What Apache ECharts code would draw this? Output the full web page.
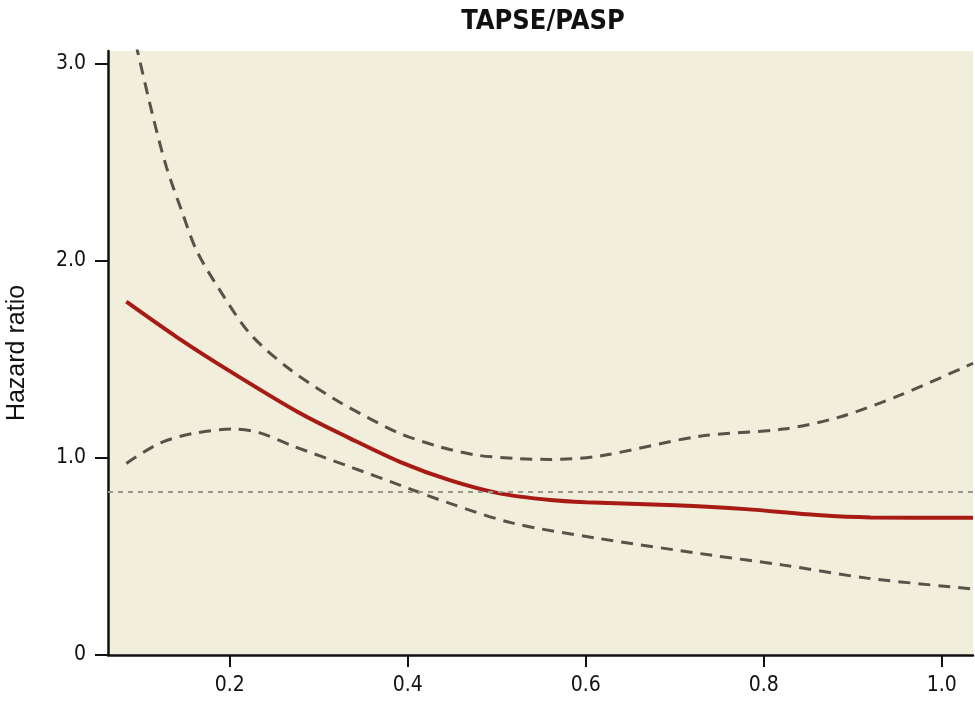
<!DOCTYPE html>
<html>
<head>
<meta charset="utf-8">
<script src="https://cdn.jsdelivr.net/npm/echarts@6/dist/echarts.min.js"></script>
<style>html,body{margin:0;padding:0;background:#fff}#c{width:975px;height:704px}</style>
</head>
<body>
<div id="c"></div>
<script>
// Estimated hazard ratio (solid) with confidence bounds (dashed)
const hrX = [0.0838, 0.14, 0.2, 0.279, 0.335, 0.391, 0.447, 0.503, 0.56, 0.6, 0.7, 0.78, 0.86, 0.92, 1.035];
const hrY = [1.792, 1.614, 1.44, 1.226, 1.099, 0.98, 0.887, 0.82, 0.786, 0.775, 0.76, 0.74, 0.71, 0.698, 0.696];
const upX = [0.084, 0.097, 0.1138, 0.1288, 0.1457, 0.1625, 0.1888, 0.2225, 0.2637, 0.3161, 0.3536, 0.391, 0.436, 0.4773, 0.522, 0.5597, 0.616, 0.728, 0.822, 0.885, 0.953, 1.035];
const upY = [3.30, 3.051, 2.73, 2.476, 2.257, 2.054, 1.851, 1.631, 1.462, 1.302, 1.208, 1.124, 1.056, 1.014, 0.997, 0.992, 1.01, 1.11, 1.146, 1.207, 1.318, 1.48];
const loX = [0.0838, 0.121, 0.159, 0.2037, 0.2337, 0.271, 0.3349, 0.391, 0.4473, 0.518, 0.612, 0.74, 0.822, 0.916, 1.035];
const loY = [0.972, 1.074, 1.124, 1.146, 1.127, 1.06, 0.955, 0.862, 0.769, 0.669, 0.593, 0.507, 0.456, 0.39, 0.335];
const refLine = 0.829;
const xTicks = [0.2, 0.4, 0.6, 0.8, 1.0];
const yTicks = [0, 1, 2, 3];

const zip = (xs, ys) => xs.map((x, i) => [x, ys[i]]);
const narrow = '"Liberation Sans Narrow", "DejaVu Sans Condensed", sans-serif';

const chart = echarts.init(document.getElementById('c'));
chart.setOption({
  animation: false,
  backgroundColor: '#ffffff',
  title: {
    text: 'TAPSE/PASP', left: 538, top: 3, textAlign: 'center',
    textStyle: { fontFamily: narrow, fontWeight: 'bold', fontSize: 27, color: '#111' }
  },
  grid: { left: 108, right: 2, top: 51, bottom: 49, outerBoundsMode: 'none', containLabel: false, show: true, backgroundColor: '#f1eedc', borderWidth: 0 },
  xAxis: {
    type: 'value', min: 0.0632, max: 1.035,
    axisLine: { lineStyle: { color: '#111', width: 2.5 } },
    axisTick: { customValues: xTicks, length: 12, lineStyle: { color: '#111', width: 2 } },
    axisLabel: { customValues: xTicks, formatter: v => v.toFixed(1), margin: 20, fontFamily: narrow, fontSize: 21, color: '#111' },
    splitLine: { show: false }
  },
  yAxis: {
    type: 'value', min: 0, max: 3.064,
    name: 'Hazard ratio', nameLocation: 'middle', nameGap: 78, nameRotate: 90,
    nameTextStyle: { fontFamily: '"Liberation Sans", Arial, sans-serif', fontSize: 25, color: '#111' },
    axisLine: { show: true, lineStyle: { color: '#111', width: 2.5 } },
    axisTick: { show: true, customValues: yTicks, length: 13, lineStyle: { color: '#111', width: 2 } },
    axisLabel: { customValues: yTicks, formatter: v => v === 0 ? '0' : v.toFixed(1), margin: 22, fontFamily: narrow, fontSize: 21, color: '#111' },
    splitLine: { show: false }
  },
  series: [
    {
      type: 'line', data: zip(upX, upY), smooth: 0.3, symbol: 'none', clip: true,
      lineStyle: { color: '#57534a', width: 3, type: [12, 8] },
      markLine: {
        silent: true, symbol: 'none', label: { show: false },
        lineStyle: { color: '#9a978f', width: 2, type: [5, 5] },
        data: [{ yAxis: refLine }]
      }
    },
    {
      type: 'line', data: zip(loX, loY), smooth: 0.3, symbol: 'none', clip: true,
      lineStyle: { color: '#57534a', width: 3, type: [12, 8] }
    },
    {
      type: 'line', data: zip(hrX, hrY), smooth: 0.3, symbol: 'none', clip: true,
      lineStyle: { color: '#a81a14', width: 4 }
    }
  ]
});
</script>
</body>
</html>
